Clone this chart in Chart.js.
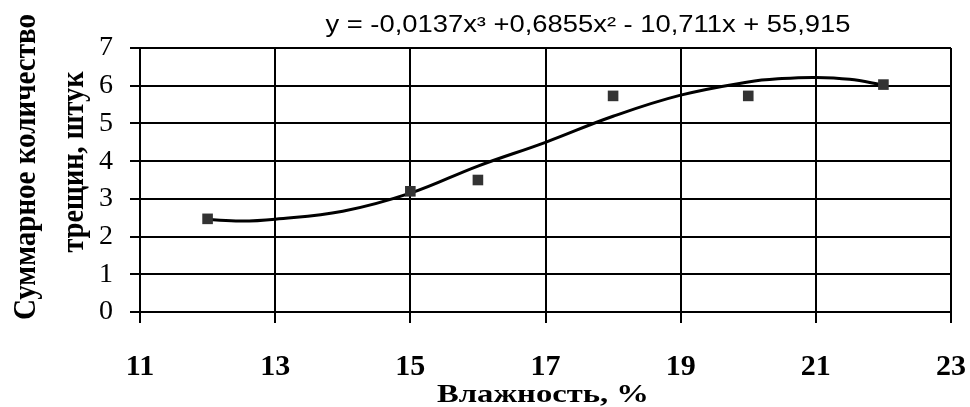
<!DOCTYPE html>
<html>
<head>
<meta charset="utf-8">
<script src="https://cdn.jsdelivr.net/npm/chart.js@4.4.1/dist/chart.umd.min.js"></script>
<style>
  html, body { margin: 0; padding: 0; background: #fff; overflow: hidden; }
  #wrap { width: 970px; height: 407px; position: relative; }
  canvas { display: block; }
</style>
</head>
<body>
<div id="wrap"><canvas id="crackChart"></canvas></div>
<script>
// measured points
const moisture = [12, 15, 16, 18, 20, 22];
const cracks = [2.47, 3.2, 3.5, 5.73, 5.73, 6.03];

// trend curve
const trendX = [12, 12.5, 13, 14, 15, 16, 17, 18, 19, 20, 20.5, 21, 21.5, 22];
const trendY = [2.45, 2.41, 2.46, 2.67, 3.15, 3.87, 4.5, 5.19, 5.75, 6.1, 6.19, 6.22, 6.17, 6.02];

const xTicks = [11, 13, 15, 17, 19, 21, 23];
const yTicks = [0, 1, 2, 3, 4, 5, 6, 7];

const equationText = 'y = -0,0137x³ +0,6855x² - 10,711x + 55,915';
const xTitle = 'Влажность, %';
const yTitle = ['Суммарное количество', 'трещин, штук'];

const serif = '"Liberation Serif", "Times New Roman", serif';

// draw a string stretched/squeezed to a given length
function fitText(ctx, text, x, y, length, rotate) {
    const w = ctx.measureText(text).width;
    ctx.save();
    ctx.translate(x, y);
    if (rotate) ctx.rotate(-Math.PI / 2);
    ctx.scale(length / w, 1);
    ctx.textAlign = 'center';
    ctx.fillText(text, 0, 0);
    ctx.restore();
}

// equation and axis titles
const extraText = {
    id: 'extraText',
    afterDraw(chart) {
        const ctx = chart.ctx;
        const area = chart.chartArea;
        ctx.save();
        ctx.fillStyle = '#000';
        ctx.textBaseline = 'alphabetic';

        ctx.font = '23px "Liberation Sans", Arial, sans-serif';
        fitText(ctx, equationText, 588, area.top - 16, 525, false);

        ctx.font = 'bold 26px ' + serif;
        fitText(ctx, xTitle, 543, 402, 212, false);

        ctx.font = 'bold 31px ' + serif;
        fitText(ctx, yTitle[0], 35, 167, 306, true);
        fitText(ctx, yTitle[1], 83, 162, 181, true);
        ctx.restore();
    }
};

document.addEventListener('DOMContentLoaded', function () {
    const ctx = document.getElementById('crackChart').getContext('2d');
    new Chart(ctx, {
        type: 'scatter',
        data: {
            datasets: [{
                label: 'Тренд',
                type: 'line',
                data: trendX.map((x, i) => ({ x: x, y: trendY[i] })),
                borderColor: '#000',
                borderWidth: 3,
                pointRadius: 0,
                tension: 0.4,
                fill: false,
                order: 2
            }, {
                label: 'Данные',
                data: moisture.map((x, i) => ({ x: x, y: cracks[i] })),
                pointStyle: 'rect',
                pointRadius: 7.5,
                backgroundColor: '#333',
                borderColor: '#333',
                borderWidth: 0,
                order: 1
            }]
        },
        options: {
            responsive: true,
            maintainAspectRatio: false,
            animation: false,
            layout: {
                padding: { left: 99, right: 0, top: 48, bottom: 22 }
            },
            scales: {
                x: {
                    type: 'linear',
                    min: 11,
                    max: 23,
                    afterBuildTicks: axis => { axis.ticks = xTicks.map(v => ({ value: v })); },
                    afterFit: axis => {
                        axis.height = 73;
                        axis.paddingLeft = 0;
                        axis.paddingRight = 19;
                    },
                    grid: { color: '#000', lineWidth: 2, tickLength: 11, drawTicks: true },
                    border: { color: '#000', width: 2 },
                    ticks: {
                        color: '#000',
                        padding: 26,
                        maxRotation: 0,
                        autoSkip: false,
                        font: { family: serif, size: 30, weight: 'bold', lineHeight: 1.2 }
                    }
                },
                y: {
                    min: 0,
                    max: 7,
                    afterBuildTicks: axis => { axis.ticks = yTicks.map(v => ({ value: v })); },
                    afterFit: axis => { axis.width = 41; },
                    grid: { color: '#000', lineWidth: 2, tickLength: 10, drawTicks: true },
                    border: { color: '#000', width: 2 },
                    ticks: {
                        color: '#000',
                        padding: 17,
                        autoSkip: false,
                        font: { family: serif, size: 28 }
                    }
                }
            },
            plugins: {
                legend: { display: false },
                tooltip: { enabled: false }
            }
        },
        plugins: [extraText]
    });
});
</script>
</body>
</html>
